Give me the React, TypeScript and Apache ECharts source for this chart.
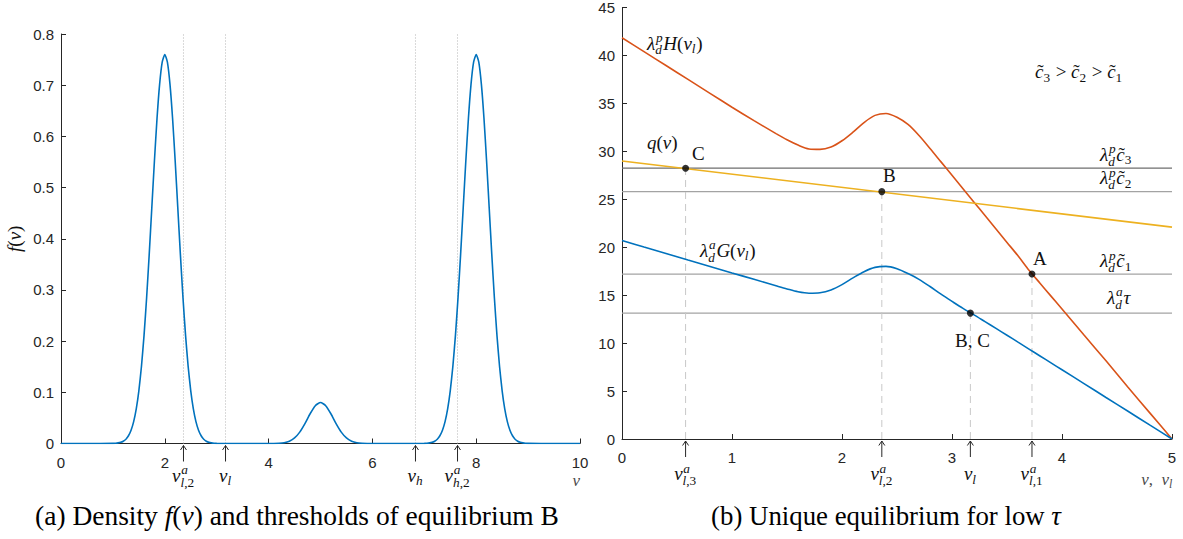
import React, { useEffect, useRef } from "react";
import * as echarts from "echarts";

// ---------------- Panel (a): density f(nu) ----------------
const densityNu = [
  0, 0.5,
  1.0, 1.05, 1.1, 1.15, 1.2, 1.25, 1.3, 1.35, 1.4, 1.45, 1.5, 1.55, 1.6, 1.65, 1.7, 1.75, 1.8, 1.85, 1.9, 1.95,
  2.0, 2.05, 2.1, 2.15, 2.2, 2.25, 2.3, 2.35, 2.4, 2.45, 2.5, 2.55, 2.6, 2.65, 2.7, 2.75, 2.8, 2.85, 2.9, 2.95, 3.0,
  3.5,
  4.0, 4.1, 4.2, 4.3, 4.4, 4.5, 4.6, 4.7, 4.8, 4.9, 5.0, 5.1, 5.2, 5.3, 5.4, 5.5, 5.6, 5.7, 5.8, 5.9, 6.0,
  6.5,
  7.0, 7.05, 7.1, 7.15, 7.2, 7.25, 7.3, 7.35, 7.4, 7.45, 7.5, 7.55, 7.6, 7.65, 7.7, 7.75, 7.8, 7.85, 7.9, 7.95,
  8.0, 8.05, 8.1, 8.15, 8.2, 8.25, 8.3, 8.35, 8.4, 8.45, 8.5, 8.55, 8.6, 8.65, 8.7, 8.75, 8.8, 8.85, 8.9, 8.95, 9.0,
  9.5, 10,
];
const densityF = [
  0, 0,
  0.0003, 0.0006, 0.0012, 0.0023, 0.0045, 0.0084, 0.0151, 0.0259, 0.0427, 0.0676, 0.1029, 0.1504, 0.2113, 0.2852, 0.37, 0.461, 0.5519, 0.6349, 0.7016, 0.745,
  0.76, 0.745, 0.7016, 0.6349, 0.5519, 0.461, 0.37, 0.2852, 0.2113, 0.1504, 0.1029, 0.0676, 0.0427, 0.0259, 0.0151, 0.0084, 0.0045, 0.0023, 0.0012, 0.0006, 0.0003,
  0,
  0.0, 0.0001, 0.0005, 0.0016, 0.0045, 0.0108, 0.0222, 0.0389, 0.0581, 0.0739, 0.08, 0.0739, 0.0581, 0.0389, 0.0222, 0.0108, 0.0045, 0.0016, 0.0005, 0.0001, 0.0,
  0,
  0.0003, 0.0006, 0.0012, 0.0023, 0.0045, 0.0084, 0.0151, 0.0259, 0.0427, 0.0676, 0.1029, 0.1504, 0.2113, 0.2852, 0.37, 0.461, 0.5519, 0.6349, 0.7016, 0.745,
  0.76, 0.745, 0.7016, 0.6349, 0.5519, 0.461, 0.37, 0.2852, 0.2113, 0.1504, 0.1029, 0.0676, 0.0427, 0.0259, 0.0151, 0.0084, 0.0045, 0.0023, 0.0012, 0.0006, 0.0003,
  0, 0,
];
const thresholdsA = [2.36, 3.17, 6.83, 7.64];

// ---------------- Panel (b): equilibrium curves ----------------
const nuR = [
  0, 0.2, 0.4, 0.6, 0.8, 1.0, 1.2, 1.4,
  1.5, 1.6, 1.7, 1.8, 1.9, 2.0, 2.1, 2.2, 2.3, 2.4, 2.5, 2.6, 2.7, 2.8, 2.9, 3.0, 3.1, 3.2, 3.3, 3.4, 3.5, 3.6, 3.7, 3.8, 3.9, 4.0,
  4.2, 4.4, 4.6, 4.8, 5.0,
];
const hVals = [
  41.85, 40.4, 38.95, 37.5, 36.05, 34.6, 33.2, 31.85,
  31.2, 30.65, 30.25, 30.2, 30.45, 31.1, 32.0, 33.0, 33.75, 33.95, 33.55, 32.8, 31.65, 30.3, 28.9, 27.5, 26.1, 24.7, 23.3, 21.9, 20.5, 19.1, 17.6, 16.25, 14.9, 13.55,
  10.85, 8.15, 5.4, 2.7, 0,
];
const gVals = [
  20.7, 20.02, 19.35, 18.67, 18.0, 17.32, 16.65, 15.98,
  15.65, 15.35, 15.2, 15.25, 15.55, 16.1, 16.8, 17.45, 17.9, 18.0, 17.75, 17.25, 16.65, 15.9, 15.1, 14.35, 13.62, 12.95, 12.24, 11.53, 10.82, 10.1, 9.38, 8.66, 7.94, 7.22,
  5.78, 4.33, 2.89, 1.44, 0,
];
const qNu = [0, 5];
const qVals = [29.0, 22.1];
const levelVals = [28.24, 25.8, 17.2, 13.13];
const eqNu = [0.578, 2.362, 3.727, 3.167];
const eqVals = [28.24, 25.8, 17.2, 13.13];

// ---------------- styles ----------------
const SERIF = "Liberation Serif, DejaVu Serif, serif";
const SANS = "Liberation Sans, Arial, sans-serif";
const AX = "#262626";
const TXT = "#111111";
const AXLBL = "#4a4a4a";
const levelColors = ["#6e6e6e", "#a3a3a3", "#a3a3a3", "#a3a3a3"];
const CENTRAL = 0.33;

type Run = [string, boolean];
type Tok = { t?: string; i?: boolean; acc?: string; sup?: Run[]; sub?: Run[] };
const B = (t: string, i = false, acc?: string): Tok => ({ t, i, acc });
const S = (sup?: Run[], sub?: Run[]): Tok => ({ sup, sub });
const NU = B("ν", true);

const threshLabelsA: Tok[][] = [
  [NU, S([["a", true]], [["l", true], [",2", false]])],
  [NU, S(undefined, [["l", true]])],
  [NU, S(undefined, [["h", true]])],
  [NU, S([["a", true]], [["h", true], [",2", false]])],
];
const eqLabelsB: Tok[][] = [
  [NU, S([["a", true]], [["l", true], [",3", false]])],
  [NU, S([["a", true]], [["l", true], [",2", false]])],
  [NU, S([["a", true]], [["l", true], [",1", false]])],
  [NU, S(undefined, [["l", true]])],
];
const annotationsB: { toks: Tok[]; x: number; y: number }[] = [
  { toks: [B("λ", true), S([["p", true]], [["d", true]]), B("H", true), B("("), NU, S(undefined, [["l", true]]), B(")")], x: 0.227, y: 40.64 },
  { toks: [B("c", true, "˜"), S(undefined, [["3", false]]), B(" > "), B("c", true, "˜"), S(undefined, [["2", false]]), B(" > "), B("c", true, "˜"), S(undefined, [["1", false]])], x: 3.755, y: 37.62 },
  { toks: [B("q", true), B("("), NU, B(")")], x: 0.227, y: 30.24 },
  { toks: [B("C")], x: 0.636, y: 29.17 },
  { toks: [B("B")], x: 2.373, y: 26.81 },
  { toks: [B("λ", true), S([["p", true]], [["d", true]]), B("c", true, "˜"), S(undefined, [["3", false]])], x: 4.345, y: 29.0 },
  { toks: [B("λ", true), S([["p", true]], [["d", true]]), B("c", true, "˜"), S(undefined, [["2", false]])], x: 4.345, y: 26.57 },
  { toks: [B("λ", true), S([["a", true]], [["d", true]]), B("G", true), B("("), NU, S(undefined, [["l", true]]), B(")")], x: 0.709, y: 19.02 },
  { toks: [B("A")], x: 3.736, y: 18.19 },
  { toks: [B("λ", true), S([["p", true]], [["d", true]]), B("c", true, "˜"), S(undefined, [["1", false]])], x: 4.345, y: 17.91 },
  { toks: [B("λ", true), S([["a", true]], [["d", true]]), B("τ", true)], x: 4.41, y: 14.13 },
  { toks: [B("B, C")], x: 3.027, y: 9.59 },
];
const fLabel: Tok[] = [B("f", true), B("("), NU, B(")")];
const nuNuLabel: Tok[] = [NU, B(",  "), NU, S(undefined, [["l", true]])];
const captionA: Tok[] = [B("(a) Density "), B("f", true), B("("), NU, B(")"), B(" and thresholds of equilibrium B")];
const captionB: Tok[] = [B("(b) Unique equilibrium for low "), B("τ", true)];

let ctx: CanvasRenderingContext2D | null = null;
function tw(t: string, size: number, it: boolean): number {
  if (!ctx) ctx = document.createElement("canvas").getContext("2d");
  ctx!.font = `${it ? "italic " : ""}${size}px ${SERIF}`;
  return ctx!.measureText(t).width;
}

function layout(toks: Tok[], size: number, color: string) {
  const kids: any[] = [];
  let x = 0;
  const ss = size * 0.7;
  const mk = (t: string, xx: number, yb: number, sz: number, it: boolean, align = "left") => ({
    type: "text",
    x: xx,
    y: yb - CENTRAL * sz,
    silent: true,
    style: {
      text: t,
      fontSize: sz,
      fontFamily: SERIF,
      fontStyle: it ? "italic" : "normal",
      fill: color,
      align,
      verticalAlign: "middle",
    },
  });
  for (const k of toks) {
    if (k.t !== undefined) {
      const w = tw(k.t, size, !!k.i);
      kids.push(mk(k.t, x, 0, size, !!k.i));
      if (k.acc) kids.push(mk(k.acc, x + w * 0.5 + (k.i ? size * 0.06 : 0), 0, size, false, "center"));
      x += w;
    } else {
      const both = !!(k.sup && k.sub);
      let wmax = 0;
      if (k.sup) {
        let xx = x + size * 0.04;
        for (const [t, it] of k.sup) {
          kids.push(mk(t, xx, -size * 0.4, ss, it));
          xx += tw(t, ss, it);
        }
        wmax = Math.max(wmax, xx - x);
      }
      if (k.sub) {
        let xx = x;
        for (const [t, it] of k.sub) {
          kids.push(mk(t, xx, size * (both ? 0.26 : 0.18), ss, it));
          xx += tw(t, ss, it);
        }
        wmax = Math.max(wmax, xx - x);
      }
      x += wmax + size * 0.04;
    }
  }
  return { kids, width: x };
}

function mathGroup(toks: Tok[], px: number, baseline: number, size: number, align: string, color = TXT, rotation = 0) {
  const { kids, width } = layout(toks, size, color);
  const off = align === "left" ? 0 : align === "center" ? -width / 2 : -width;
  kids.forEach((k) => (k.x += off));
  return { type: "group", x: px, y: baseline, rotation, children: kids, silent: true };
}

function fitSize(toks: Tok[], targetWidth: number): number {
  const w = layout(toks, 20, TXT).width;
  return (20 * targetWidth) / w;
}

function arrow(x: number, y0: number) {
  return [
    { type: "line", silent: true, shape: { x1: x, y1: y0 + 2, x2: x, y2: y0 + 18 }, style: { stroke: AX, lineWidth: 1 } },
    {
      type: "polyline",
      silent: true,
      shape: { points: [[x - 3, y0 + 6.5], [x, y0 + 2], [x + 3, y0 + 6.5]] },
      style: { stroke: AX, lineWidth: 1, fill: "none" },
    },
  ];
}

function axisCfg(gi: number, min: number, max: number, interval: number, margin: number) {
  return {
    type: "value",
    gridIndex: gi,
    min,
    max,
    interval,
    axisLine: { show: true, onZero: false, lineStyle: { color: AX, width: 1 } },
    axisTick: { show: true, inside: true, length: 5, lineStyle: { color: AX, width: 1 } },
    axisLabel: { color: AX, fontSize: 15, fontFamily: SANS, margin, showMinLabel: true, showMaxLabel: true },
    splitLine: { show: false },
  };
}

function buildOption(): any {
  const series: any[] = [];
  thresholdsA.forEach((t) =>
    series.push({
      type: "line",
      xAxisIndex: 0,
      yAxisIndex: 0,
      data: [[t, 0], [t, 0.8]],
      symbol: "none",
      silent: true,
      lineStyle: { color: "#b3b3b3", width: 1, type: [1, 2] },
    })
  );
  series.push({
    type: "line",
    xAxisIndex: 0,
    yAxisIndex: 0,
    data: densityNu.map((x, i) => [x, densityF[i]]),
    symbol: "none",
    smooth: 0.2,
    silent: true,
    lineStyle: { color: "#0072BD", width: 1.6 },
  });
  levelVals.forEach((v, i) =>
    series.push({
      type: "line",
      xAxisIndex: 1,
      yAxisIndex: 1,
      data: [[0, v], [5, v]],
      symbol: "none",
      silent: true,
      lineStyle: { color: levelColors[i], width: 1.3 },
    })
  );
  eqNu.forEach((x, i) =>
    series.push({
      type: "line",
      xAxisIndex: 1,
      yAxisIndex: 1,
      data: [[x, 0], [x, eqVals[i]]],
      symbol: "none",
      silent: true,
      lineStyle: { color: "#c8c8c8", width: 1, type: [7, 5] },
    })
  );
  series.push({
    type: "line",
    xAxisIndex: 1,
    yAxisIndex: 1,
    data: nuR.map((x, i) => [x, hVals[i]]),
    symbol: "none",
    smooth: 0.3,
    silent: true,
    lineStyle: { color: "#D95319", width: 1.6 },
  });
  series.push({
    type: "line",
    xAxisIndex: 1,
    yAxisIndex: 1,
    data: qNu.map((x, i) => [x, qVals[i]]),
    symbol: "none",
    silent: true,
    lineStyle: { color: "#EDB120", width: 1.6 },
  });
  series.push({
    type: "line",
    xAxisIndex: 1,
    yAxisIndex: 1,
    data: nuR.map((x, i) => [x, gVals[i]]),
    symbol: "none",
    smooth: 0.3,
    silent: true,
    lineStyle: { color: "#0072BD", width: 1.6 },
  });
  series.push({
    type: "scatter",
    xAxisIndex: 1,
    yAxisIndex: 1,
    data: eqNu.map((x, i) => [x, eqVals[i]]),
    symbolSize: 7,
    silent: true,
    itemStyle: { color: "#000000" },
    z: 5,
  });

  return {
    animation: false,
    backgroundColor: "#ffffff",
    grid: [
      { left: 61, top: 34, width: 519, height: 409.5 },
      { left: 622, top: 6, width: 550, height: 433 },
    ],
    xAxis: [axisCfg(0, 0, 10, 2, 11), axisCfg(1, 0, 5, 1, 11)],
    yAxis: [axisCfg(0, 0, 0.8, 0.1, 7), axisCfg(1, 0, 45, 5, 7)],
    series,
  };
}

function buildGraphics(chart: any): any[] {
  const P = (gi: number, x: number, y: number) => chart.convertToPixel({ gridIndex: gi }, [x, y]) as number[];
  const g: any[] = [];

  // panel (a)
  const axA = P(0, 0, 0)[1];
  thresholdsA.forEach((t, idx) => {
    const x = P(0, t, 0)[0];
    g.push(...arrow(x, axA));
    g.push(mathGroup(threshLabelsA[idx], x, axA + 38, 19, "center"));
  });
  const xEndA = P(0, 10, 0)[0];
  g.push(mathGroup([NU], xEndA, axA + 43, 17, "right", AXLBL));
  const yMidA = P(0, 0, 0.4)[1];
  const xLeftA = P(0, 0, 0)[0];
  g.push(mathGroup(fLabel, xLeftA - 40, yMidA, 19, "center", TXT, Math.PI / 2));

  // panel (b)
  const axB = P(1, 0, 0)[1];
  eqNu.forEach((v, idx) => {
    const x = P(1, v, 0)[0];
    g.push(...arrow(x, axB));
    g.push(mathGroup(eqLabelsB[idx], x, axB + 41, 19, "center"));
  });
  annotationsB.forEach((a) => {
    const [x, y] = P(1, a.x, a.y);
    g.push(mathGroup(a.toks, x, y, 19, "left"));
  });
  const xEndB = P(1, 5, 0)[0];
  g.push(mathGroup(nuNuLabel, xEndB + 1, axB + 46, 17, "right", AXLBL));

  // captions
  g.push(mathGroup(captionA, 297, 525, fitSize(captionA, 524), "center", "#000"));
  g.push(mathGroup(captionB, 886, 525, fitSize(captionB, 350), "center", "#000"));
  return g;
}

export default function App() {
  const ref = useRef<HTMLDivElement>(null);
  useEffect(() => {
    const el = ref.current!;
    const chart = echarts.init(el, undefined, { renderer: "svg" });
    chart.setOption(buildOption());
    chart.setOption({ graphic: { elements: buildGraphics(chart) } });
    return () => chart.dispose();
  }, []);
  return (
    <div
      ref={ref}
      style={{ position: "absolute", left: 0, top: 0, width: 1183, height: 539, background: "#fff" }}
    />
  );
}
